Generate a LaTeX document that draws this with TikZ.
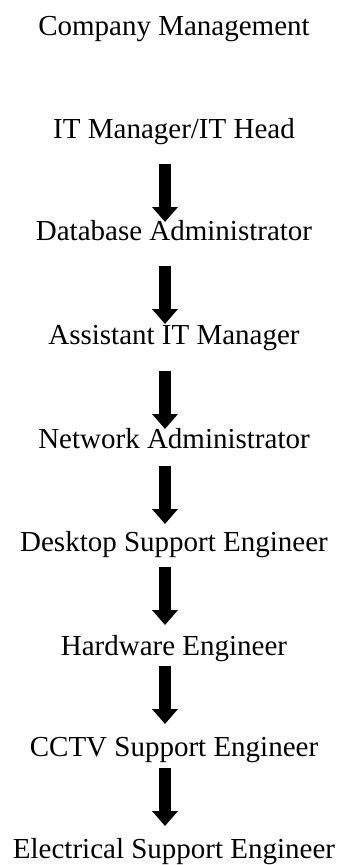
\documentclass[tikz,border=0pt]{standalone}
\usepackage{fontspec}
\setmainfont{Liberation Serif}
\usepackage{tikz}
\usetikzlibrary{arrows.meta}

\begin{document}
\begin{tikzpicture}[x=1pt,y=1pt,
		role/.style={anchor=base,inner sep=0pt,font=\fontsize{29}{34}\selectfont},
		down arrow/.style={line width=12pt,-{Triangle[width=25pt,length=15pt]}}]

		\useasboundingbox (0,0) rectangle (339,-865);

		\node[role] (cm) at (174,-35) {Company Management};
		\node[role] (itm) at (174,-138) {IT Manager/IT Head};
		\node[role] (dba) at (174,-240) {Database Administrator};
		\node[role] (aitm) at (174,-344) {Assistant IT Manager};
		\node[role] (na) at (174,-448) {Network Administrator};
		\node[role] (dse) at (174,-551) {Desktop Support Engineer};
		\node[role] (hwe) at (174,-655) {Hardware Engineer};
		\node[role] (cctv) at (174,-756) {CCTV Support Engineer};
		\node[role] (ese) at (174,-858) {Electrical Support Engineer};

		% arrows sit a little left of the text centre
		\draw[down arrow] ([shift={(-9,-26)}]itm.base) -- ([shift={(-9,18)}]dba.base);
		\draw[down arrow] ([shift={(-9,-26)}]dba.base) -- ([shift={(-9,20)}]aitm.base);
		\draw[down arrow] ([shift={(-9,-27)}]aitm.base) -- ([shift={(-9,19)}]na.base);
		\draw[down arrow] ([shift={(-9,-18)}]na.base) -- ([shift={(-9,27)}]dse.base);
		\draw[down arrow] ([shift={(-9,-16)}]dse.base) -- ([shift={(-9,30)}]hwe.base);
		\draw[down arrow] ([shift={(-9,-11)}]hwe.base) -- ([shift={(-9,32)}]cctv.base);
		\draw[down arrow] ([shift={(-9,-12)}]cctv.base) -- ([shift={(-9,32)}]ese.base);
	\end{tikzpicture}
\end{document}
